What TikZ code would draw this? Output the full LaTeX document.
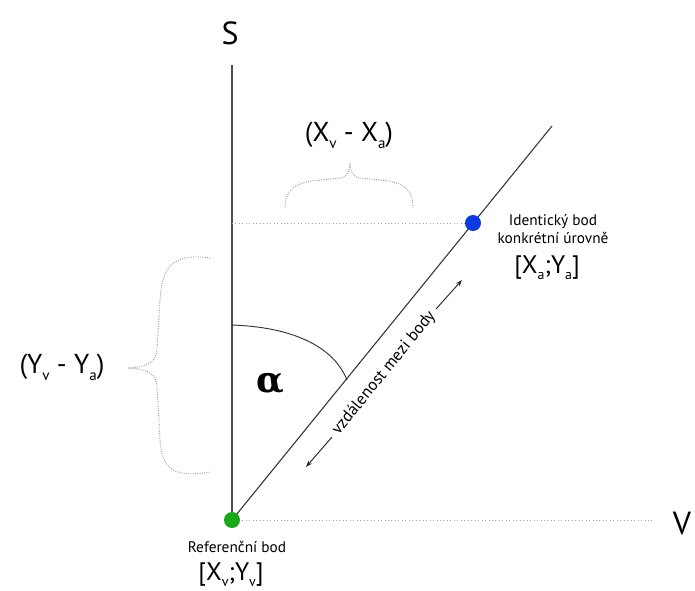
\documentclass[tikz,border=0pt]{standalone}
\usepackage{fontspec}
\setmainfont{PT Sans}
\newfontfamily\symfont{DejaVu Serif}
\usetikzlibrary{arrows.meta,backgrounds}
\definecolor{dotgreen}{RGB}{22,170,22}
\definecolor{dotblue}{RGB}{12,58,228}
\newcommand\lo[1]{\raisebox{-0.5ex}{\scalebox{0.55}{#1}}}
\begin{document}
\begin{tikzpicture}[x=0.75pt,y=-0.75pt,
  axis/.style={draw=black!70, line width=1.1pt},
  diag/.style={draw=black!80, line width=0.8pt},
  guide/.style={draw=black!35, dotted, line width=0.6pt},
  bracestyle/.style={draw=black!40, densely dotted, line width=0.7pt},
  big/.style={font=\fontsize{24}{28}\selectfont, inner sep=0pt},
  lbl/.style={font=\fontsize{20.5}{24}\selectfont, inner sep=0pt},
  small/.style={font=\fontsize{11.5}{13.5}\selectfont, align=center, inner sep=0pt},
  dot/.style={circle, inner sep=0pt, minimum size=12pt},
  distarrow/.style={draw=black!85, line width=0.7pt, -{Stealth[length=5pt,width=3.5pt]}}]
\useasboundingbox (0,0) rectangle (695,590);
% points
\coordinate (top) at (232,65);
\coordinate (lineend) at (552,126);
\coordinate (yproj) at (232,223);
\coordinate (vend) at (653,520);
\coordinate (arcstart) at (232,325);
\coordinate (arcend) at (347,380);
\coordinate (d1) at (306,467);
\coordinate (d2) at (462,280);
\node[dot, fill=dotgreen] (ref) at (232,520) {};
\node[dot, fill=dotblue] (id) at (473,223) {};
% lines under the dots
\begin{scope}[on background layer]
  \draw[axis] (top) -- (ref.center);
  \draw[diag] (ref.center) -- (lineend);
  \draw[guide] (yproj) -- (id.center);
  \draw[guide] (ref.center) -- (vend);
\end{scope}
% angle arc
\draw[diag, line width=0.7pt] (arcstart) .. controls (290,327) and (333,345) .. (arcend);
% braces
\draw[bracestyle] (285,208) .. controls (285,190) and (295,182) .. (320,180) -- (340,178)
  .. controls (348,177) and (350,170) .. (350,163)
  .. controls (350,170) and (352,177) .. (360,178) -- (380,180)
  .. controls (405,182) and (413,190) .. (413,208);
\draw[bracestyle] (210,258) .. controls (170,252) and (162,270) .. (160,300) -- (157,350)
  .. controls (156,362) and (148,367) .. (128,368)
  .. controls (148,369) and (156,374) .. (157,386) -- (160,440)
  .. controls (162,470) and (175,478) .. (210,472);
% labels
\node[big] (S) at (230,33) {S};
\node[big] (V) at (682,523) {V};
\node[lbl] (dx) at (349,135) {(X\lo{v} - X\lo{a})};
\node[lbl] (dy) at (62,367) {(Y\lo{v} - Y\lo{a})};
\node[small] (idlbl) at (553,229) {Identický bod\\konkrétní úrovně};
\node[lbl, font=\fontsize{19}{22}\selectfont] (idxy) at (547,268) {[X\lo{a};Y\lo{a}]};
\node[small] (reflbl) at (237,547) {Referenční bod};
\node[lbl, font=\fontsize{19}{22}\selectfont] (refxy) at (231,575) {[X\lo{v};Y\lo{v}]};
\node[font=\fontsize{27}{30}\symfont\bfseries, inner sep=0pt] (alpha) at (270,384) {α};
\node[small, font=\fontsize{12.5}{15}\selectfont, rotate=50.9, inner sep=4pt] (dist) at (384,373) {vzdálenost mezi body};
\draw[distarrow] (dist.west) -- (d1);
\draw[distarrow] (dist.east) -- (d2);
\end{tikzpicture}
\end{document}
